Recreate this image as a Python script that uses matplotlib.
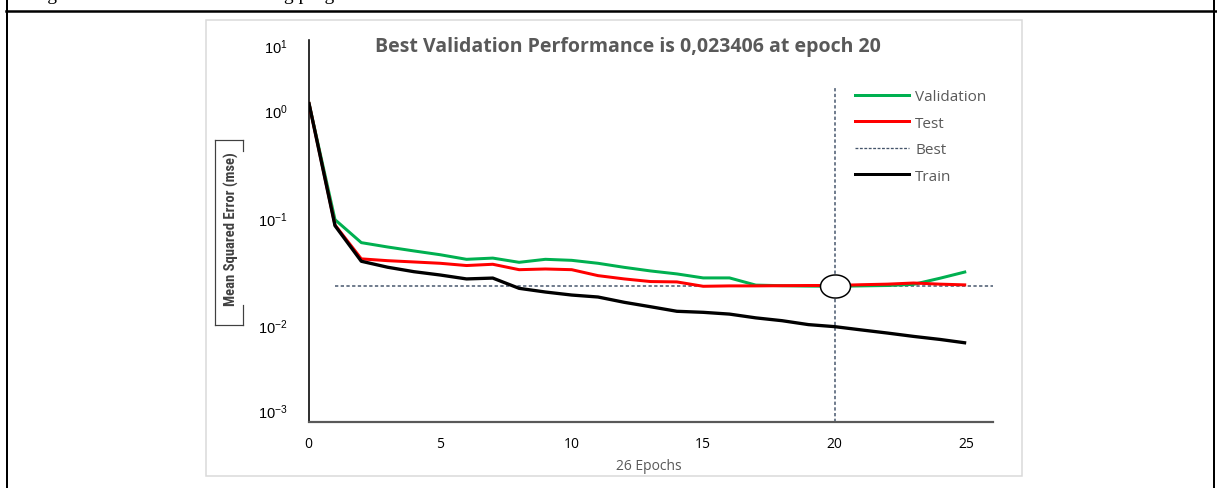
import matplotlib
matplotlib.use("Agg")
import matplotlib.pyplot as plt
from matplotlib.lines import Line2D
from matplotlib.patches import Rectangle
from matplotlib.path import Path
import numpy as np

# ---------------- data ----------------
epochs = list(range(26))
train = [1.21, 0.0857, 0.040, 0.0352, 0.032, 0.0298, 0.0274, 0.0279, 0.0224, 0.0207,
         0.0194, 0.0186, 0.0166, 0.0151, 0.0137, 0.0134, 0.0129, 0.0119, 0.0112, 0.0103,
         0.00986, 0.0092, 0.0086, 0.0080, 0.0075, 0.00695]
validation = [1.21, 0.0975, 0.0596, 0.0543, 0.0499, 0.046, 0.0417, 0.0428, 0.0391, 0.0417,
              0.0408, 0.0383, 0.0351, 0.0325, 0.0305, 0.028, 0.028, 0.0240, 0.0237, 0.0235,
              0.023406, 0.0236, 0.0238, 0.0244, 0.0278, 0.032]
test = [1.21, 0.087, 0.0421, 0.0405, 0.0394, 0.0383, 0.0365, 0.0375, 0.0334, 0.0339,
        0.0334, 0.0294, 0.0274, 0.0259, 0.0257, 0.0234, 0.0236, 0.0236, 0.0237, 0.0238,
        0.0238, 0.0242, 0.0245, 0.0251, 0.0245, 0.0241]
best_epoch = 20
best_value = 0.023406
best_vline_top = 1.7
xtick_values = [0, 5, 10, 15, 20, 25]
ytick_labels = [r"$10^{-3}$", r"$10^{-2}$", r"$10^{-1}$", r"$10^{0}$", r"$10^{1}$"]
ytick_positions = [10 ** -2.79, 1e-2, 1e-1, 1.0, 10 ** 0.605]
title_text = "Best Validation Performance is 0,023406 at epoch 20"
xlabel_text = "26 Epochs"
ylabel_text = "Mean Squared Error (mse)"
caption_text = "Figure 6. Neural network training progress"

# ---------------- layout helpers ----------------
W, H = 1217, 489
plt.rcParams["mathtext.fontset"] = "custom"
plt.rcParams["mathtext.rm"] = "Liberation Sans"
plt.rcParams["mathtext.it"] = "Liberation Sans"
plt.rcParams["font.family"] = ["Open Sans", "DejaVu Sans"]

fig = plt.figure(figsize=(W / 100, H / 100), dpi=100)
fig.patch.set_facecolor("white")


def fx(px):
    return px / W


def fy(py):
    return 1 - py / H


def px2pt(px):
    return px * 72 / 100


# outer page border and caption fragment
fig.add_artist(Line2D([fx(6), fx(1217)], [fy(12), fy(12)], color="black", lw=px2pt(2.5)))
fig.add_artist(Line2D([fx(6.5), fx(6.5)], [fy(0), fy(489)], color="black", lw=px2pt(2)))
fig.add_artist(Line2D([fx(1214), fx(1214)], [fy(0), fy(489)], color="black", lw=px2pt(2)))
fig.text(fx(31), fy(-0.5), caption_text, family=["Liberation Serif", "DejaVu Serif"],
         fontsize=14, va="baseline", ha="left", color="black")

# light chart-area box
fig.add_artist(Rectangle((fx(206), fy(477)), fx(1022) - fx(206), (477 - 21) / H,
                         fill=False, edgecolor="#d9d9d9", lw=px2pt(1.5)))

# ---------------- axes ----------------
x_left, x_right, y_top, y_bot = 308.7, 992.5, 41, 423
ax = fig.add_axes([fx(x_left), fy(y_bot), fx(x_right) - fx(x_left), (y_bot - y_top) / H])
ax.set_facecolor("none")
ax.set_yscale("log")
ax.set_xlim(0, 26)
ax.set_ylim(10 ** -2.893, 10 ** 0.660)

for s in ["top", "right"]:
    ax.spines[s].set_visible(False)
ax.spines["left"].set_color("black")
ax.spines["left"].set_linewidth(px2pt(1.6))
ax.spines["bottom"].set_color("#595959")
ax.spines["bottom"].set_linewidth(px2pt(2.2))

ax.set_xticks(xtick_values)
ax.set_xticklabels([str(v) for v in xtick_values])
ax.yaxis.set_major_locator(matplotlib.ticker.FixedLocator(ytick_positions))
ax.yaxis.set_minor_locator(matplotlib.ticker.NullLocator())
ax.set_yticklabels(ytick_labels)
ax.tick_params(axis="x", length=0, pad=10, labelsize=10, labelcolor="black")
ax.tick_params(axis="y", length=0, pad=15, labelsize=10.5, labelcolor="black")

# best lines
dash = (2.2, 1.6)
ax.hlines(best_value, epochs[1], 26, colors="#44546a", lw=px2pt(1.5),
          linestyles=(0, dash), zorder=1.5)
ax.vlines(best_epoch, ax.get_ylim()[0], best_vline_top, colors="#44546a", lw=px2pt(1.5),
          linestyles=(0, dash), zorder=1.5)

ax.plot(epochs, validation, color="#00b050", lw=px2pt(3), zorder=2,
        solid_joinstyle="round", solid_capstyle="butt")
ax.plot(epochs, test, color="#ff0000", lw=px2pt(3), zorder=3,
        solid_joinstyle="round", solid_capstyle="butt")
ax.plot(epochs, train, color="black", lw=px2pt(3.3), zorder=4,
        solid_joinstyle="round", solid_capstyle="butt")

# elliptical marker at best point
t = np.linspace(0, 2 * np.pi, 64)
ell = Path(np.column_stack([1.3 * np.cos(t), np.sin(t)]), closed=True)
ax.plot([best_epoch], [best_value], marker=ell, markersize=px2pt(30),
        markerfacecolor="white", markeredgecolor="black", markeredgewidth=px2pt(1.5),
        linestyle="none", zorder=5)

# legend
handles = [
    Line2D([], [], color="#00b050", lw=px2pt(3)),
    Line2D([], [], color="#ff0000", lw=px2pt(3)),
    Line2D([], [], color="#44546a", lw=px2pt(1.3), linestyle=(0, (2.2, 1.2))),
    Line2D([], [], color="black", lw=px2pt(3)),
]
leg = ax.legend(handles, ["Validation", "Test", "Best", "Train"],
                loc="upper left", bbox_to_anchor=(fx(855), fy(90)),
                bbox_transform=fig.transFigure, frameon=False, borderpad=0,
                borderaxespad=0, handlelength=3.53, handletextpad=0.4,
                labelspacing=0.76, fontsize=11)
for txt in leg.get_texts():
    txt.set_color("#595959")

# title, axis labels
fig.text(fx(628), fy(47), title_text, ha="center", va="center", fontsize=14,
         fontweight="bold", color="#595959")
fig.text(fx(649), fy(467), xlabel_text, ha="center", va="center", fontsize=10,
         color="#595959")
fig.text(fx(231), fy(229), ylabel_text, ha="center", va="center", rotation=90,
         fontsize=10.5, fontweight="bold", color="#404040", fontstretch="condensed",
         family=["Roboto Condensed", "Roboto", "DejaVu Sans"])

# bracket around y label
bc = "#404040"
blw = px2pt(1.2)
for (x0, y0, x1, y1) in [(215, 140.5, 243, 140.5), (215, 140.5, 215, 326), (215, 326, 243, 326),
                         (243, 140.5, 243, 152), (243, 306, 243, 326)]:
    fig.add_artist(Line2D([fx(x0), fx(x1)], [fy(y0), fy(y1)], color=bc, lw=blw))

fig.savefig("out.png", dpi=100)
